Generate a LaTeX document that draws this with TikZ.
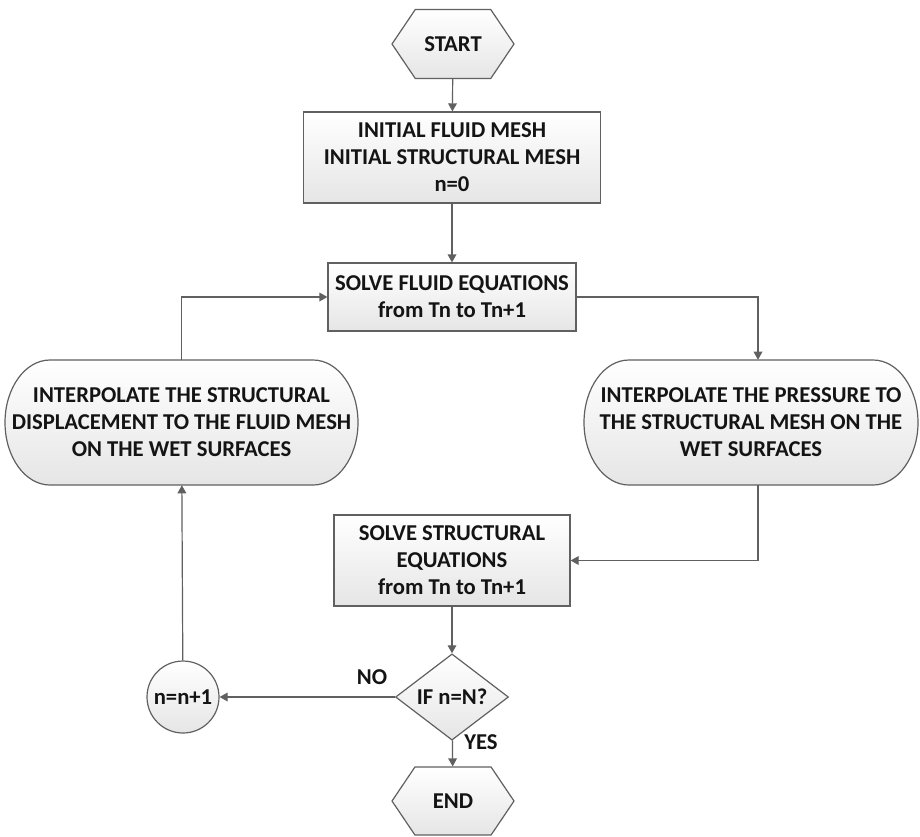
\documentclass[tikz,border=0pt]{standalone}
\usepackage{fontspec}
\setmainfont{Carlito}
\usetikzlibrary{arrows.meta,shapes.geometric,shapes.symbols}

\definecolor{edgegray}{HTML}{606060}
\definecolor{textgray}{HTML}{141414}

\tikzset{
  boxtext/.style={text=textgray, font=\fontsize{17}{20.3}\selectfont\bfseries, align=center, inner sep=0pt},
  boxfill/.style={draw=edgegray, line width=0.9pt, top color=white, bottom color=black!10},
  flowbox/.style={boxtext, boxfill},
  hexa/.style={flowbox, signal, signal to=west and east, signal pointer angle=112},
  link/.style={draw=edgegray, line width=0.9pt, -{Triangle[length=6pt,width=6.5pt]}},
  tag/.style={text=textgray, font=\fontsize{17}{20.3}\selectfont\bfseries}
}

\begin{document}
\begin{tikzpicture}[x=0.75pt,y=-0.75pt]
\useasboundingbox (0,0) rectangle (920,836);

% start and initial meshes
\node[hexa, minimum width=91.5pt, minimum height=51.75pt] (start) at (453,44) {START};
\node[flowbox, rectangle, minimum width=222.75pt, minimum height=68.25pt] (init) at (452,157.5)
  {INITIAL FLUID MESH\\INITIAL STRUCTURAL MESH\\n=0};

% fluid solver
\node[flowbox, rectangle, minimum width=186pt, minimum height=51pt] (fluid) at (452,297)
  {SOLVE FLUID EQUATIONS\\from Tn to Tn+1};

% interpolation steps (rounded ends drawn by hand, text on top)
\draw[boxfill]
  (50,360) -- (313,360) arc[start angle=90,end angle=-90,x radius=33.75pt,y radius=46.875pt]
  -- (50,485) arc[start angle=270,end angle=90,x radius=33.75pt,y radius=46.875pt] -- cycle;
\node[boxtext, minimum width=264.75pt, minimum height=93.75pt] (disp) at (181.5,422.5)
  {INTERPOLATE THE STRUCTURAL\\DISPLACEMENT TO THE FLUID MESH\\ON THE WET SURFACES};

\draw[boxfill]
  (629,360) -- (873,360) arc[start angle=90,end angle=-90,x radius=33.75pt,y radius=46.875pt]
  -- (629,485) arc[start angle=270,end angle=90,x radius=33.75pt,y radius=46.875pt] -- cycle;
\node[boxtext, minimum width=251.25pt, minimum height=93.75pt] (pres) at (751,422.5)
  {INTERPOLATE THE PRESSURE TO\\THE STRUCTURAL MESH ON THE\\WET SURFACES};

% structural solver and check
\node[flowbox, rectangle, minimum width=177pt, minimum height=68.25pt] (struct) at (452,560.5)
  {SOLVE STRUCTURAL\\EQUATIONS\\from Tn to Tn+1};
\node[flowbox, diamond, minimum width=84.75pt, minimum height=50.25pt] (check) at (452,697) {IF n=N?};
\node[flowbox, circle, minimum size=54pt] (incr) at (183,697) {n=n+1};
\node[hexa, minimum width=91.5pt, minimum height=51pt] (end) at (453,801) {END};

% connectors
\draw[link] (start) -- (init);
\draw[link] (init) -- (fluid);
\draw[link] (fluid.east) -| ([xshift=5.25pt]pres.north);
\draw[link] ([xshift=5.25pt]pres.south) |- (struct.east);
\draw[link] (struct) -- (check);
\draw[link] (check) -- (incr);
\draw[link] (check) -- (end);
\draw[link] (incr) -- (disp);
\draw[link] (disp.north) |- (fluid.west);

\node[tag] (no) at (372,677) {NO};
\node[tag] (yes) at (481,742) {YES};
\end{tikzpicture}
\end{document}
